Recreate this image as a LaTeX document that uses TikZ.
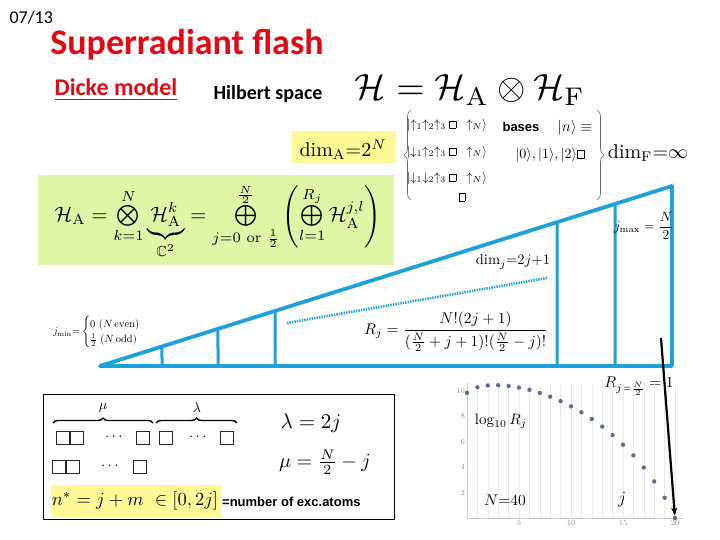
\documentclass[tikz,border=0pt]{standalone}
\usepackage{amsmath}
\usepackage{amssymb}
\usepackage{graphicx}
\usepackage{fontspec}
\newfontfamily\slidefont{Carlito}
\newfontfamily\boldsans{Liberation Sans}
\usetikzlibrary{positioning, calc, arrows.meta, decorations.pathreplacing}
\definecolor{triblue}{RGB}{30,160,218}
\definecolor{hlyellow}{RGB}{255,250,150}
\definecolor{hlgreen}{RGB}{224,245,165}
\definecolor{dotblue}{RGB}{95,110,140}
\definecolor{titlered}{RGB}{225,10,20}
\newcommand{\setsize}[1]{\fontsize{#1}{#1}\selectfont}
\newcommand{\gapbox}{\mbox{\setlength{\fboxsep}{0pt}\setlength{\fboxrule}{0.4pt}\fbox{\rule{0pt}{1.3ex}\rule{0.45em}{0pt}}}}
\tikzset{
	triline/.style={draw=triblue, line width=3.8pt, line join=round},
	tristep/.style={draw=triblue, line width=3pt}
}
\tikzset{
	cell/.style={draw=black!85, line width=0.7pt, minimum size=12.5pt, inner sep=0pt},
	setbrace/.style={decorate, decoration={brace, amplitude=7pt}, draw=black!60, line width=0.6pt},
	youngbrace/.style={decorate, decoration={brace, amplitude=5pt}, draw=black, line width=1.4pt}
}
\tikzset{
	gridline/.style={draw=black!8, line width=0.5pt},
	axisline/.style={draw=black!20, line width=0.6pt},
	ticktext/.style={font=\setsize{8}, text=black!45, inner sep=2pt},
	dot/.style={circle, fill=dotblue, inner sep=0pt, minimum size=4.4pt}
}

\begin{document}
\begin{tikzpicture}[x=1pt, y=-1pt]
      \useasboundingbox (0,0) rectangle (720,540);
      \node[font={\slidefont\setsize{18}}, anchor=west] (date) at (6,18) {07/13};
      \node[font={\slidefont\bfseries\setsize{36}}, text=titlered] (title) at (187,45) {Superradiant flash};
      \node[font={\slidefont\bfseries\setsize{24}}, text=titlered] (dicke) at (116,90) {\underline{Dicke model}};
      \node[font={\slidefont\bfseries\setsize{20}}] (hilbert) at (268,94) {Hilbert space};
      \node[scale=3.65] (hfull) at (470,90) {$\mathcal{H}=\mathcal{H}_{\mathrm{A}}\otimes\mathcal{H}_{\mathrm{F}}$};

      \fill[hlyellow] (292,131) rectangle (396,163);
      \node[scale=2] (dima) at (343,150) {$\mathrm{dim}_{\mathrm{A}}{=}2^N$};
      \draw[setbrace] (411,200) -- (411,110);
      \draw[setbrace] (597,110) -- (597,200);
      \node[scale=1.25] (rowa) at (447,125) {$\left|\uparrow_1\uparrow_2\uparrow_3\gapbox\;\;\uparrow_N\right\rangle$};
      \node[scale=1.25] (rowb) at (447,152) {$\left|\downarrow_1\uparrow_2\uparrow_3\gapbox\;\;\uparrow_N\right\rangle$};
      \node[scale=1.25] (rowc) at (447,178) {$\left|\downarrow_1\downarrow_2\uparrow_3\gapbox\;\;\uparrow_N\right\rangle$};
      \node[scale=1.25] (rowgap) at (462,197) {\gapbox};
      \node[font={\boldsans\bfseries\setsize{13}}] (bases) at (521,127) {bases};
      \node[scale=1.5] (nket) at (575,128) {$\left|n\right\rangle\equiv$};
      \node[scale=1.4] (fock) at (550,155) {$|0\rangle,|1\rangle,|2\rangle\gapbox$};
      \node[scale=2] (dimf) at (648,153) {$\mathrm{dim}_{\mathrm{F}}{=}\infty$};

      \fill[hlgreen] (38,175) rectangle (394,265);
      \node[scale=2.08] (hadecomp) at (218,221) {$\mathcal{H}_{\mathrm{A}}=\bigotimes\limits_{k=1}^{N}\underbrace{\mathcal{H}_{\mathrm{A}}^{k}}_{\mathbb{C}^2}=\bigoplus\limits_{j=0\text{ or }\frac12}^{\frac N2}\left(\bigoplus\limits_{l=1}^{R_j}\mathcal{H}_{\mathrm{A}}^{j,l}\right)$};

      \coordinate (apex) at (100,366);
      \coordinate (tip) at (672,186);
      \coordinate (corner) at (672,366);
      \draw[triline] (apex) -- (tip) -- (corner) -- cycle;
      \foreach \x in {162,218,275,557,615}
        \draw[tristep] (\x,366) -- ($(apex)!{(\x-100)/572}!(tip)$);
      \coordinate (dotstart) at (287,323);
      \coordinate (dotend) at (547,278);
      \draw[draw=triblue, line width=2.6pt, dash pattern=on 1.4pt off 1.1pt] (dotstart) -- (dotend);
      \node[scale=1.45] (dimj) at (513,262) {$\mathrm{dim}_j{=}2j{+}1$};
      \node[scale=1.35] (jmax) at (644,226) {$j_{\mathrm{max}}=\dfrac{N}{2}$};
      \node[scale=1.55] (rj) at (456,332) {$R_j=\dfrac{N!(2j+1)}{(\frac N2+j+1)!(\frac N2-j)!}$};
      \node[scale=1.05] (jmin) at (102,332) {$j_{\mathrm{min}}{=}\begin{cases}0\ (N\,\mathrm{even})\\ \frac12\ (N\,\mathrm{odd})\end{cases}$};
      \node[scale=1.55] (rlast) at (639,386) {$R_{j=\frac N2}=1$};

      \draw[black, line width=0.8pt] (43,394) rectangle (394,519);
      \draw[youngbrace] (53,423) -- (153,423);
      \draw[youngbrace] (156,423) -- (237,423);
      \node[scale=1.4] (mulabel) at (103,408) {$\mu$};
      \node[scale=1.4] (lamlabel) at (197,408) {$\lambda$};
      \foreach \x in {63,77,143,166,227}
        \node[cell] (upper\x) at (\x,438) {};
      \foreach \x in {59,73,140}
        \node[cell] (lower\x) at (\x,467) {};
      \node[scale=1.5] (dotsa) at (115,437) {$\cdots$};
      \node[scale=1.5] (dotsb) at (199,437) {$\cdots$};
      \node[scale=1.5] (dotsc) at (111,466) {$\cdots$};
      \node[scale=2.1] (lam) at (311,423) {$\lambda=2j$};
      \node[scale=2.0] (mu) at (325,462) {$\mu=\frac N2-j$};
      \fill[hlyellow] (51,485) rectangle (221,517);
      \node[scale=1.85] (nstar) at (135,501) {$n^{*}=j+m\ \in[0,2j]$};
      \node[font={\boldsans\bfseries\setsize{13}}, anchor=west, inner sep=0pt] (exc) at (222,502) {=number of exc.atoms};

      \begin{scope}[shift={(467,518)}, x=10.4pt, y=12.75pt]
        \foreach \i in {1,...,20}
          \draw[gridline] (\i,0) -- (\i,10.6);
        \draw[axisline] (0,0) -- (20.8,0);
        \draw[axisline] (0,0) -- (0,10.6);
        \foreach \i in {5,10,15,20}
          \node[ticktext, below] (xt\i) at (\i,0) {\i};
        \foreach \i in {2,4,...,10}
          \node[ticktext, left] (yt\i) at (0,\i) {\i};
        \foreach \i/\v in {0/9.817,1/10.253,2/10.392,3/10.413,4/10.355,5/10.231,6/10.048,7/9.809,8/9.515,9/9.166,10/8.759,11/8.293,12/7.765,13/7.170,14/6.502,15/5.753,16/4.911,17/3.959,18/2.869,19/1.591,20/0}
          \node[dot] (p\i) at (\i,\v) {};
      \end{scope}
      \node[scale=1.5] (logr) at (501,421) {$\log_{10}R_j$};
      \node[scale=1.55] (nforty) at (505,500) {$N{=}40$};
      \node[scale=1.7] (jlabel) at (622,500) {$j$};
      \coordinate (arrowtop) at (661,338);
      \draw[line width=2.2pt, -{Stealth[length=8pt, width=6pt]}] (arrowtop) -- (p20);
    \end{tikzpicture}
\end{document}
